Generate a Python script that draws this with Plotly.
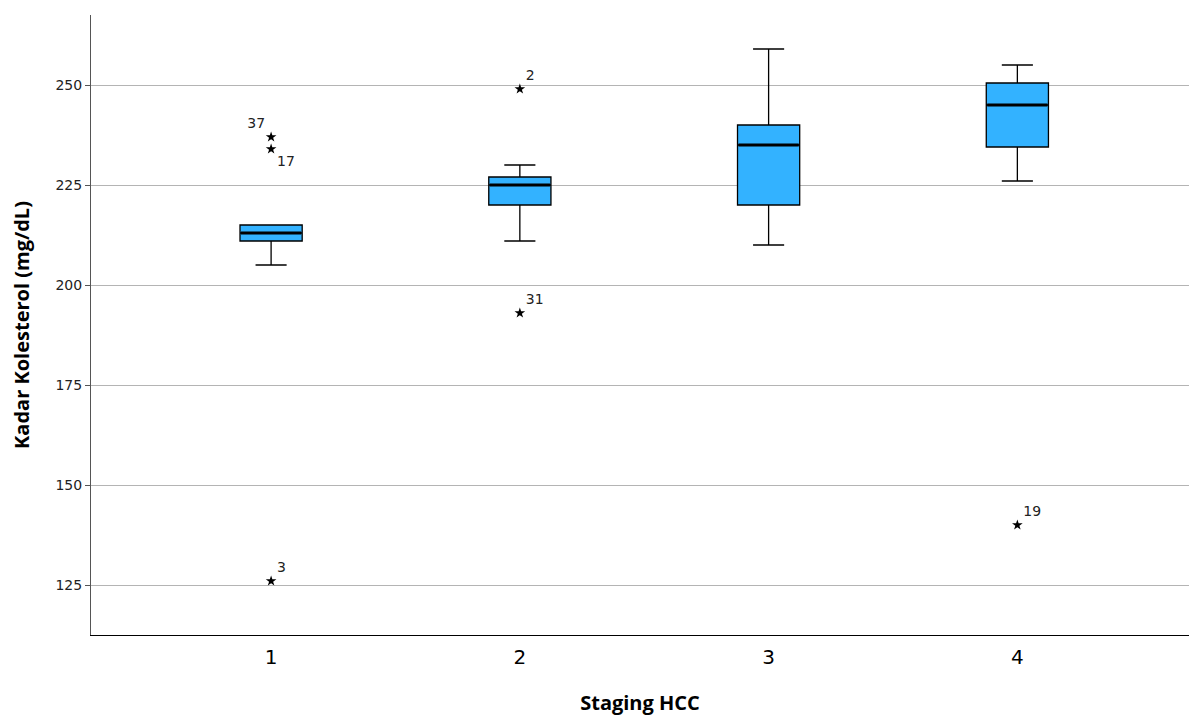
import plotly.graph_objects as go

categories = [1, 2, 3, 4]
lower_whisker = [205, 211, 210, 226]
q1 = [211, 220, 220, 234.5]
median = [213, 225, 235, 245]
q3 = [215, 227, 240, 250.5]
upper_whisker = [215, 230, 259, 255]

outlier_x = [1, 1, 1, 2, 2, 4]
outlier_y = [237, 234, 126, 249, 193, 140]
outlier_labels = ["37", "17", "3", "2", "31", "19"]
outlier_pos = ["top left", "bottom right", "top right", "top right", "top right", "top right"]

y_ticks = [125, 150, 175, 200, 225, 250]

BOX_W = 0.25
fig = go.Figure()
fig.add_trace(go.Box(
    x=categories, q1=q1, median=median, q3=q3,
    lowerfence=lower_whisker, upperfence=upper_whisker,
    width=BOX_W, whiskerwidth=0.5, boxpoints=False,
    fillcolor="#33b2ff", line=dict(color="black", width=1.3),
    showlegend=False, hoverinfo="skip"))

# thicker median lines
for c, m in zip(categories, median):
    fig.add_trace(go.Scatter(x=[c - BOX_W / 2 + 0.004, c + BOX_W / 2 - 0.004], y=[m, m], mode="lines",
                             line=dict(color="black", width=3), showlegend=False, hoverinfo="skip"))

fig.add_trace(go.Scatter(
    x=outlier_x, y=outlier_y, mode="markers+text",
    marker=dict(symbol="star", size=8, color="black"),
    text=outlier_labels, textposition=outlier_pos,
    textfont=dict(family="DejaVu Sans", size=14, color="#222"),
    showlegend=False, hoverinfo="skip"))

fig.update_layout(
    width=1189, height=717,
    margin=dict(l=91, r=0, t=15, b=82),
    paper_bgcolor="white", plot_bgcolor="white",
    font=dict(family="DejaVu Sans", color="black"),
)
fig.update_xaxes(
    range=[0.276, 4.69], tickmode="array", tickvals=categories,
    ticktext=[str(c) for c in categories],
    tickfont=dict(family="DejaVu Sans", size=20, color="black"),
    showgrid=False, zeroline=False, showline=True, linecolor="black", linewidth=1,
    ticks="", ticklen=0, ticklabelstandoff=4,
    title=dict(text="<b>Staging HCC</b>", font=dict(family="Open Sans", size=20, color="black"), standoff=27),
)
fig.update_yaxes(
    range=[112.5, 267.5], tickmode="array", tickvals=y_ticks,
    tickfont=dict(family="DejaVu Sans", size=14, color="#222"),
    showgrid=True, gridcolor="#b4b4b4", gridwidth=1, zeroline=False,
    showline=True, linecolor="#555", linewidth=1,
    ticks="outside", ticklen=5, tickcolor="#555",
    title=dict(text="<b>Kadar Kolesterol (mg/dL)</b>", font=dict(family="Open Sans", size=20, color="black"), standoff=20),
)

fig.write_html("out.html", config={"displayModeBar": False},
               post_script="document.body.style.margin='0';document.body.style.overflow='hidden';")
